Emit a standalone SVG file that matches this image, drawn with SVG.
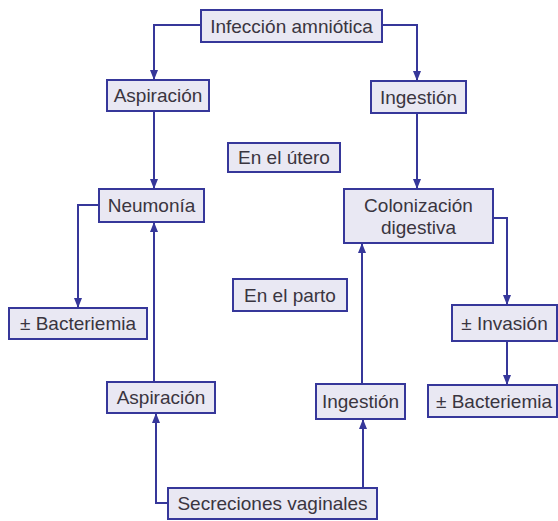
<svg xmlns="http://www.w3.org/2000/svg" width="558" height="521" viewBox="0 0 558 521">
<style>
.box{fill:#e9e8f3;stroke:#36379a;stroke-width:2}
.t{font-family:"Liberation Sans",Arial,sans-serif;font-size:19px;fill:#3a3540;text-anchor:middle}
.c{fill:none;stroke:#36379a;stroke-width:2}
</style>
<defs>
<marker id="ah" markerWidth="10" markerHeight="10" refX="9" refY="5" orient="auto" markerUnits="userSpaceOnUse">
<path d="M0,1 L10,5 L0,9 Z" fill="#36379a"/>
</marker>
</defs>
<rect width="558" height="521" fill="#fff"/>
<g id="connectors">
<path class="c" d="M201,25 H154 V79" marker-end="url(#ah)"/>
<path class="c" d="M382,25 H417 V80" marker-end="url(#ah)"/>
<path class="c" d="M154,111 V188" marker-end="url(#ah)"/>
<path class="c" d="M417,113 V188" marker-end="url(#ah)"/>
<path class="c" d="M99,205 H78 V307" marker-end="url(#ah)"/>
<path class="c" d="M154,382 V223" marker-end="url(#ah)"/>
<path class="c" d="M493,218 H507 V304" marker-end="url(#ah)"/>
<path class="c" d="M507,341 V384" marker-end="url(#ah)"/>
<path class="c" d="M362,384 V244" marker-end="url(#ah)"/>
<path class="c" d="M168,503 H156 V414" marker-end="url(#ah)"/>
<path class="c" d="M363,488 V420" marker-end="url(#ah)"/>
</g>
<g id="infeccion"><rect class="box" x="201" y="10" width="181" height="32"/><text class="t" x="291.5" y="32.5">Infección amniótica</text></g>
<g id="aspiracion1"><rect class="box" x="107" y="80" width="102" height="31"/><text class="t" x="158" y="102">Aspiración</text></g>
<g id="ingestion1"><rect class="box" x="371" y="81" width="95" height="32"/><text class="t" x="418.5" y="103.5">Ingestión</text></g>
<g id="utero"><rect class="box" x="228" y="143" width="112" height="29"/><text class="t" x="284" y="164">En el útero</text></g>
<g id="neumonia"><rect class="box" x="99" y="189" width="105" height="33"/><text class="t" x="151.5" y="212">Neumonía</text></g>
<g id="colonizacion"><rect class="box" x="344" y="189" width="149" height="54"/><text class="t" x="418.5" y="212">Colonización</text><text class="t" x="418.5" y="234">digestiva</text></g>
<g id="parto"><rect class="box" x="233" y="279" width="114" height="32"/><text class="t" x="290" y="301.5">En el parto</text></g>
<g id="bacteriemia1"><rect class="box" x="9" y="308" width="138" height="31"/><text class="t" x="78" y="330">± Bacteriemia</text></g>
<g id="invasion"><rect class="box" x="452" y="305" width="105" height="36"/><text class="t" x="504.5" y="329.5">± Invasión</text></g>
<g id="aspiracion2"><rect class="box" x="107" y="382" width="108" height="31"/><text class="t" x="161" y="404">Aspiración</text></g>
<g id="ingestion2"><rect class="box" x="316" y="384" width="89" height="35"/><text class="t" x="360.5" y="408">Ingestión</text></g>
<g id="bacteriemia2"><rect class="box" x="428" y="385" width="129" height="32"/><text class="t" x="494" y="407.5">± Bacteriemia</text></g>
<g id="secreciones"><rect class="box" x="168" y="488" width="209" height="31"/><text class="t" x="272.5" y="510">Secreciones vaginales</text></g>
</svg>
